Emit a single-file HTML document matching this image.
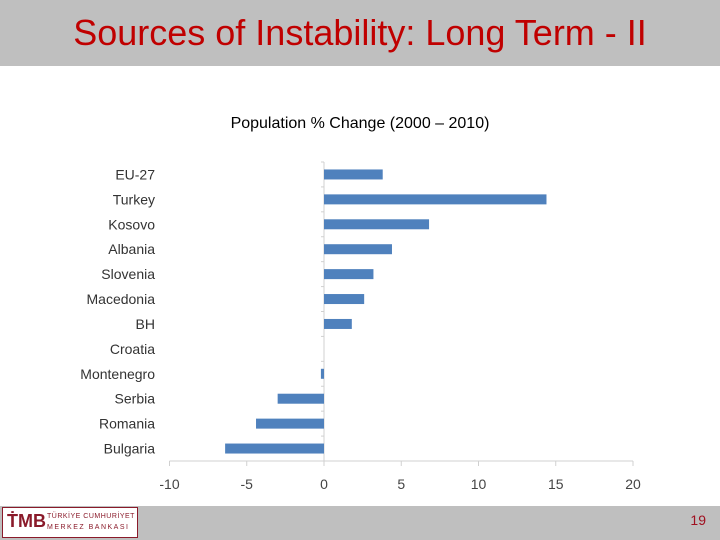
<!DOCTYPE html>
<html><head><meta charset="utf-8"><style>
body{margin:0;width:720px;height:540px;background:#fff;position:relative;overflow:hidden;font-family:"Liberation Sans",sans-serif}
#hdr{position:absolute;left:0;top:0;width:720px;height:66px;background:#bfbfbf}
#title{position:absolute;left:0;top:12px;width:720px;text-align:center;font-size:36px;color:#c00000;font-family:"Liberation Sans",sans-serif}
#ftr{position:absolute;left:0;top:506px;width:720px;height:34px;background:#bfbfbf}
#logo{position:absolute;left:2px;top:507px;width:136px;height:31px;background:#fff;border:1px solid #8a1a2a;box-sizing:border-box}
#pg{position:absolute;right:14px;top:512px;font-size:14px;color:#a01020}
</style></head><body>
<div id="hdr"></div>
<div id="title">Sources of Instability: Long Term - II</div>
<svg width="720" height="540" style="position:absolute;left:0;top:0" id="chart">
<text x="360" y="128" text-anchor="middle" font-size="16" font-family="Liberation Sans">Population % Change (2000 – 2010)</text>
</svg>
<div id="ftr"></div>
<div id="logo">
<span style="position:absolute;left:4px;top:3px;font-size:18px;font-weight:bold;color:#8a1a2a">ṪMB</span>
<span style="position:absolute;left:44px;top:5px;font-size:7px;color:#8a1a2a;letter-spacing:0.5px">TÜRKİYE CUMHURİYET</span>
<span style="position:absolute;left:44px;top:16px;font-size:7px;color:#8a1a2a;letter-spacing:1.5px">MERKEZ BANKASI</span>
</div>
<div id="pg">19</div>
<script>
const categories=["EU-27","Turkey","Kosovo","Albania","Slovenia","Macedonia","BH","Croatia","Montenegro","Serbia","Romania","Bulgaria"];
const values=[3.8,14.4,6.8,4.4,3.2,2.6,1.8,0,-0.2,-3,-4.4,-6.4];
const ticks=[-10,-5,0,5,10,15,20];
const svg=document.getElementById('chart');const NS="http://www.w3.org/2000/svg";
const x=v=>324+(v)*15.45;
const plotTop=162,plotBot=461,band=(plotBot-plotTop)/categories.length;
const y=i=>plotTop+band*i+band/2;
function mk(t,a){const e=document.createElementNS(NS,t);for(const k in a)e.setAttribute(k,a[k]);svg.appendChild(e);return e;}
let e=mk('line',{x1:x(-10),x2:x(20),y1:plotBot,y2:plotBot,stroke:'#d0d0d0'});


e=mk('line',{x1:x(0),x2:x(0),y1:plotTop,y2:plotBot,stroke:'#d0d0d0'});


ticks.forEach(t=>{
 let l=mk('line',{x1:x(t),x2:x(t),y1:plotBot,y2:plotBot+5,stroke:'#d0d0d0'});
 
 
 let tx=mk('text',{x:x(t),y:plotBot+28,'text-anchor':'middle','font-size':14,fill:'#444'});tx.textContent=t;
 
 
});
for(let i=0;i<=categories.length;i++){let l=mk('line',{x1:x(0)-3,x2:x(0),y1:plotTop+band*i,y2:plotTop+band*i,stroke:'#d0d0d0'});
 
 }
categories.forEach((c,i)=>{
 let tx=mk('text',{x:155,y:y(i)+5,'text-anchor':'end','font-size':14,fill:'#333'});tx.textContent=c;
 
 
 const v=values[i];
 let r=mk('rect',{x:Math.min(x(0),x(v)),y:y(i)-5,width:Math.abs(x(v)-x(0)),height:10,fill:'#4f81bd'});
 
 
});
</script>
</body></html>
